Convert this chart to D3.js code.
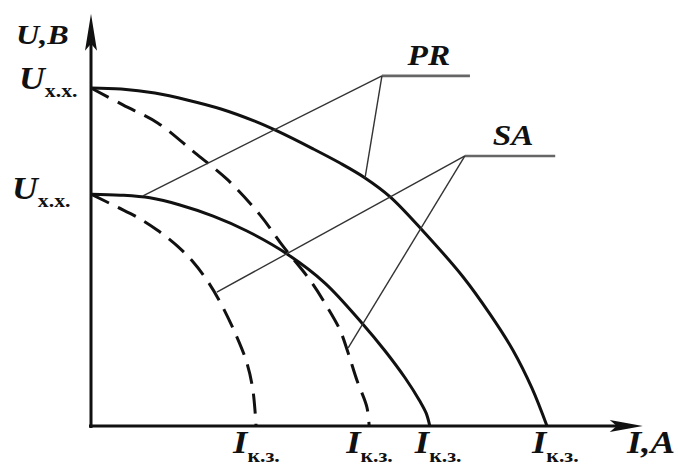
<!DOCTYPE html>
<meta charset="utf-8">
<style>
    body { margin: 0; background: #fff; }
    text {
        font-family: "Liberation Serif", "Times New Roman", serif;
        font-weight: bold;
        fill: #111;
    }
    .it { font-style: italic; }
    .curve { fill: none; stroke: #111; stroke-width: 3; }
    .curve.dashed { stroke-dasharray: 20, 10; }
    .axis { stroke: #111; stroke-width: 3; }
    .arrow { fill: #111; }
    .leader { stroke: #333; stroke-width: 1.4; fill: none; }
    .shelf { stroke: #666; stroke-width: 2.6; }
</style>
<body>
<script src="https://cdnjs.cloudflare.com/ajax/libs/d3/7.8.5/d3.min.js"></script>
<script>
// points, I and U in % of the upper PR curve
var upperSolid = [[0,100],[6.6,99.7],[14,98.5],[21.3,96.4],[28.5,93.8],[35.9,90.2],[40.8,87.3],[48.7,82],[54.6,77.8],[60.1,73.4],[65.6,67.8],[72.6,58],[81.6,44.1],[87.5,33.1],[92.5,22.5],[96.7,11.2],[100,0]];
var upperDashed = [[0,100],[7,95],[14.7,89.6],[22.8,80.8],[30,72.8],[37.1,62.4],[42.1,53.2],[48,43.2],[51.8,35.2],[54.6,28.4],[56.4,21.6],[58.3,13.6],[60.5,5.6],[61,0]];
var lowerSolid = [[0,68.6],[6.4,68.3],[12.9,67.5],[19.5,65.4],[26.8,62.1],[34.2,57.7],[43,50.9],[51.3,42.3],[59.4,30.5],[64.5,22.2],[68.9,14.2],[72.1,7.4],[73.5,3.8],[74.3,0]];
var lowerDashed = [[0,68.6],[5.7,64.8],[10.1,61.8],[14.5,58],[18.9,53.3],[22.4,48.5],[25.4,43.2],[28.3,36.7],[32,26.3],[34.2,18.6],[35.5,10.7],[36.2,0]];

var curves = [
    {pts: upperSolid, dashed: false},
    {pts: upperDashed, dashed: true},
    {pts: lowerSolid, dashed: false},
    {pts: lowerDashed, dashed: true}
];

// open-circuit voltages (y axis labels)
var uxxValues = [100, 68.6];

// leader annotations
var leaderNames = ["PR", "SA"];
var leaderKnee = [[63.8, 103.6], [82, 79.9]];
var leaderShelfEnd = [[83.1, 103.6], [101.8, 79.9]];
var leaderTargets = [[[11.4, 68.1], [60.1, 73.4]], [[27.6, 39.6], [56.4, 23.1]]];

var xMax = 121, yMax = 122;

var width = 678, height = 466;
var svg = d3.select("body").append("svg")
    .attr("width", width)
    .attr("height", height);

var x = d3.scaleLinear().domain([0, 100]).range([91, 547]);
var y = d3.scaleLinear().domain([0, 100]).range([426, 88]);

// axes with arrows
svg.append("line").attr("class", "axis")
    .attr("x1", x(0)).attr("y1", y(0) + 2)
    .attr("x2", x(0)).attr("y2", y(yMax) + 30);
svg.append("line").attr("class", "axis")
    .attr("x1", x(0) - 2).attr("y1", y(0))
    .attr("x2", x(xMax) - 25).attr("y2", y(0));

var tipY = [x(0), y(yMax)];
svg.append("path").attr("class", "arrow")
    .attr("d", "M" + tipY[0] + "," + tipY[1] +
        "L" + (tipY[0] + 6) + "," + (tipY[1] + 37) +
        "L" + tipY[0] + "," + (tipY[1] + 30) +
        "L" + (tipY[0] - 6) + "," + (tipY[1] + 37) + "Z");
var tipX = [x(xMax), y(0)];
svg.append("path").attr("class", "arrow")
    .attr("d", "M" + tipX[0] + "," + tipX[1] +
        "L" + (tipX[0] - 33) + "," + (tipX[1] - 6) +
        "L" + (tipX[0] - 26) + "," + tipX[1] +
        "L" + (tipX[0] - 33) + "," + (tipX[1] + 6) + "Z");

// curves
var line = d3.line()
    .x(function(d) { return x(d[0]); })
    .y(function(d) { return y(d[1]); })
    .curve(d3.curveCatmullRom.alpha(0.5));

svg.selectAll(".curve")
    .data(curves)
    .enter().append("path")
    .attr("class", function(d) { return d.dashed ? "curve dashed" : "curve"; })
    .attr("d", function(d) { return line(d.pts); });

// leader lines
leaderNames.forEach(function(name, i) {
    var k = leaderKnee[i], e = leaderShelfEnd[i];
    svg.append("line").attr("class", "shelf")
        .attr("x1", x(k[0])).attr("y1", y(k[1]))
        .attr("x2", x(e[0])).attr("y2", y(e[1]));
    leaderTargets[i].forEach(function(t) {
        svg.append("line").attr("class", "leader")
            .attr("x1", x(k[0])).attr("y1", y(k[1]))
            .attr("x2", x(t[0])).attr("y2", y(t[1]));
    });
    var cx = (x(k[0]) + x(e[0])) / 2 + 3;
    svg.append("text").attr("class", "it")
        .attr("transform", "translate(" + cx + "," + (y(k[1]) - 11) + ") scale(1.15,1)")
        .attr("text-anchor", "middle")
        .style("font-size", "29px")
        .text(name);
});

// y axis title
svg.append("text").attr("class", "it")
    .attr("transform", "translate(16,44) scale(1.15,1)")
    .style("font-size", "28px")
    .text("U,В");

// x axis title
svg.append("text").attr("class", "it")
    .attr("transform", "translate(627,453) scale(1.15,1)")
    .style("font-size", "32px")
    .text("I,А");

// Uxx labels
uxxValues.forEach(function(v, i) {
    var t = svg.append("text")
        .attr("transform", "translate(" + (i ? 12 : 19) + "," + (y(v) + (i ? 5 : 1)) + ") scale(1.15,1)");
    t.append("tspan").attr("class", "it").style("font-size", "31px").text("U");
    t.append("tspan").style("font-size", "19px").attr("dy", 8).text("х.х.");
});

// Ikz labels at the end of each curve
curves.forEach(function(c) {
    var end = c.pts[c.pts.length - 1];
    var t = svg.append("text")
        .attr("transform", "translate(" + (x(end[0]) - (c.dashed ? 23 : 15)) + "," + (y(0) + 27) + ") scale(1.15,1)");
    t.append("tspan").attr("class", "it").style("font-size", "32px").text("I");
    t.append("tspan").style("font-size", "19px").attr("dy", 9).text("к.з.");
});
</script>
</body>
